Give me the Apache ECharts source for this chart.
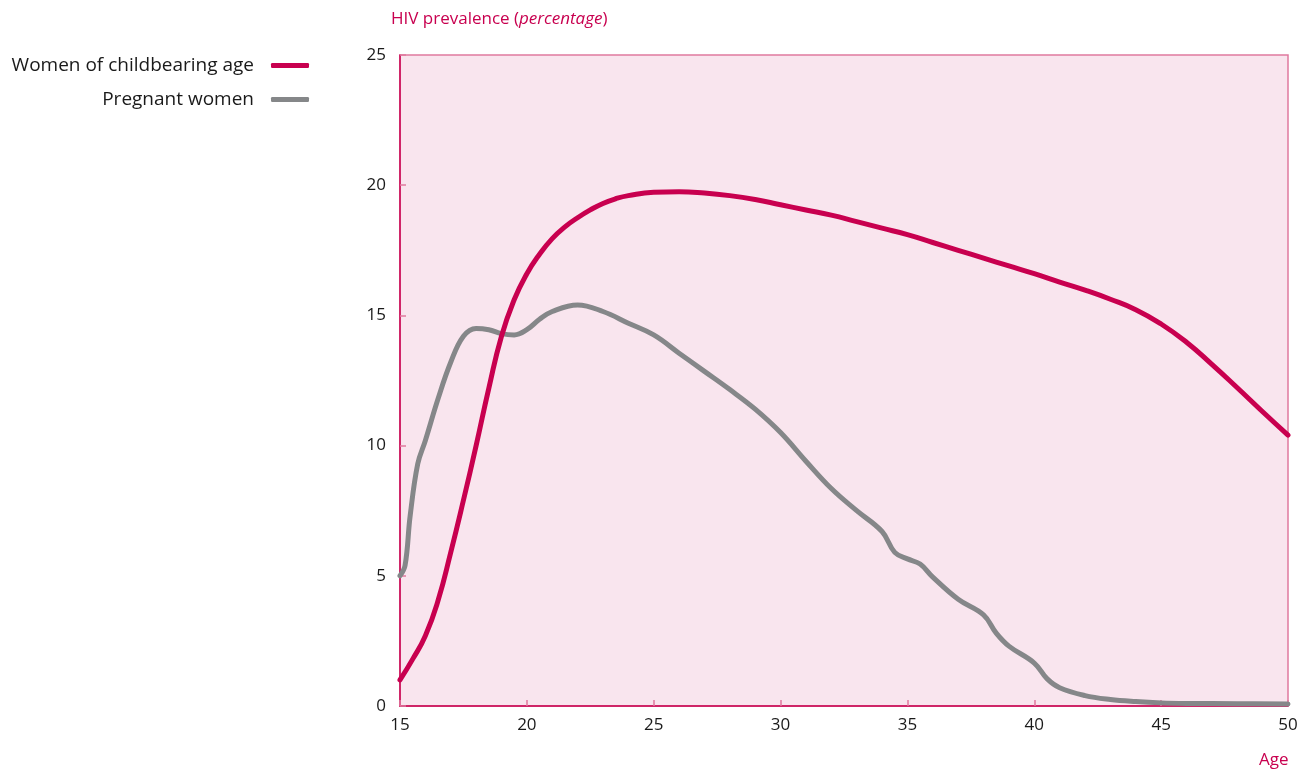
<!DOCTYPE html>
<html>
<head>
<meta charset="utf-8">
<script src="https://cdn.jsdelivr.net/npm/echarts@6/dist/echarts.min.js"></script>
<style>
html,body{margin:0;padding:0;background:#fff;}
#chart{width:1314px;height:772px;}
</style>
</head>
<body>
<div id="chart"></div>
<script>
const seriesNames = ['Women of childbearing age', 'Pregnant women'];
const womenAges = [15,15.5,16,16.5,17,17.5,18,18.5,19,19.5,20,20.5,21,21.5,22,22.5,23,23.5,24,25,26,27,28,29,30,31,32,33,34,35,36,37,38,39,40,41,42,43,44,45,46,47,48,49,50];
const womenValues = [1.0,1.8,2.7,4.05,5.9,7.9,10.0,12.2,14.2,15.6,16.6,17.35,17.95,18.4,18.75,19.05,19.3,19.48,19.6,19.73,19.75,19.7,19.6,19.45,19.25,19.05,18.85,18.6,18.35,18.1,17.8,17.5,17.2,16.9,16.6,16.28,15.97,15.62,15.22,14.67,13.97,13.12,12.22,11.3,10.4];
const pregnantAges = [15,15.2,15.4,15.7,16,16.5,17,17.5,18,18.5,19,19.5,20,20.5,21,22,23,24,25,26,27,28,29,30,31,32,33,34,34.5,35,35.5,36,37,38,38.5,39,40,40.5,41,42,43,44,45,46,48,50];
const pregnantValues = [5.0,5.4,7.3,9.3,10.2,11.8,13.2,14.2,14.5,14.45,14.3,14.25,14.45,14.85,15.15,15.4,15.15,14.7,14.25,13.55,12.85,12.15,11.4,10.5,9.4,8.35,7.5,6.7,5.9,5.65,5.45,4.95,4.1,3.5,2.8,2.3,1.65,1.05,0.7,0.4,0.25,0.17,0.12,0.1,0.09,0.08];
const xTicks = [15,20,25,30,35,40,45,50];
const yTicks = [0,5,10,15,20,25];

const RED = '#c8004f', GREY = '#858789', PINK_BG = '#f9e5ee', PINK_LINE = '#e0799f';
const FONT = 'Open Sans';

const chart = echarts.init(document.getElementById('chart'));
const zip = (a, b) => a.map((x, i) => [x, b[i]]);

function legendFor(name, top) {
  return {
    data: [name], orient: 'horizontal', align: 'right', right: 1000, top: top,
    itemWidth: 38, itemHeight: 5, icon: 'roundRect', selectedMode: false,
    textStyle: { fontFamily: FONT, fontSize: 19, color: '#1a1a1a', padding: [0, 12, 0, 0] }
  };
}

chart.setOption({
  animation: false,
  backgroundColor: '#fff',
  title: [
    { left: 386, top: 6, text: '{a|HIV prevalence (}{b|percentage}{a|)}',
      textStyle: { fontWeight: 'normal', rich: {
        a: { fontFamily: FONT, fontSize: 17, color: RED, fontWeight: 'normal' },
        b: { fontFamily: FONT, fontSize: 17, color: RED, fontStyle: 'italic', fontWeight: 'normal' } } } },
    { left: 1254, top: 747, text: 'Age', textStyle: { fontFamily: FONT, fontSize: 17, fontWeight: 'normal', color: RED } }
  ],
  legend: [legendFor(seriesNames[0], 51), legendFor(seriesNames[1], 85)],
  grid: { left: 400, right: 26, top: 55, bottom: 66, show: true, backgroundColor: PINK_BG, borderColor: PINK_LINE, borderWidth: 1.5 },
  xAxis: {
    type: 'value', min: 15, max: 50, interval: 5,
    axisLine: { lineStyle: { color: RED, width: 1.5 } },
    axisTick: { inside: true, length: 6, lineStyle: { color: PINK_LINE, width: 1.5 } },
    axisLabel: { fontFamily: FONT, fontSize: 17, color: '#1a1a1a', margin: 11,
      formatter: v => xTicks.includes(v) ? String(v) : '' },
    splitLine: { show: false }
  },
  yAxis: {
    type: 'value', min: 0, max: 25, interval: 5,
    axisLine: { show: true, lineStyle: { color: RED, width: 1.5 } },
    axisTick: { show: true, inside: true, length: 6, lineStyle: { color: PINK_LINE, width: 1.5 } },
    axisLabel: { fontFamily: FONT, fontSize: 17, color: '#1a1a1a', margin: 14,
      formatter: v => yTicks.includes(v) ? String(v) : '' },
    splitLine: { show: false }
  },
  series: [
    { name: seriesNames[1], type: 'line', data: zip(pregnantAges, pregnantValues), smooth: 0.4,
      showSymbol: false, symbol: 'none', itemStyle: { color: GREY },
      lineStyle: { color: GREY, width: 5, cap: 'round', join: 'round' }, z: 2 },
    { name: seriesNames[0], type: 'line', data: zip(womenAges, womenValues), smooth: 0.5,
      showSymbol: false, symbol: 'none', itemStyle: { color: RED },
      lineStyle: { color: RED, width: 5, cap: 'round', join: 'round' }, z: 3 }
  ]
});
</script>
</body>
</html>
